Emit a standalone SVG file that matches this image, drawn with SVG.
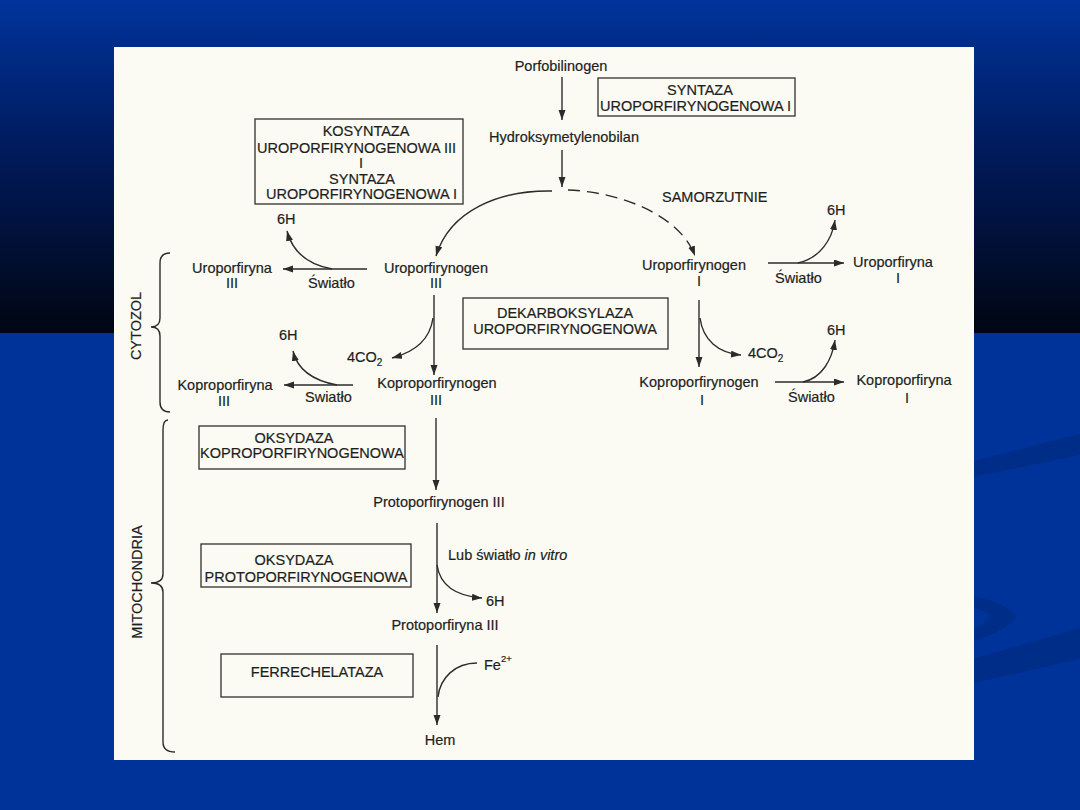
<svg xmlns="http://www.w3.org/2000/svg" width="1080" height="810" viewBox="0 0 1080 810">
<defs>
<linearGradient id="topg" x1="0" y1="0" x2="0" y2="1">
<stop offset="0" stop-color="#00349c"/>
<stop offset="0.45" stop-color="#001a5c"/>
<stop offset="1" stop-color="#000612"/>
</linearGradient>
<marker id="ah" markerUnits="userSpaceOnUse" markerWidth="11" markerHeight="8" refX="10" refY="3.5" orient="auto">
<path d="M0,0 L10,3.5 L0,7 z" fill="#2b2b2b"/>
</marker>
<style>
.t{font-family:"Liberation Sans",Arial,sans-serif;font-size:14.5px;fill:#1e1e1e;stroke:#1e1e1e;stroke-width:0.2}
.c{text-anchor:middle}
.b{fill:none;stroke:#2e2e2e;stroke-width:1.3}
.l{fill:none;stroke:#2b2b2b;stroke-width:1.4}
.a{marker-end:url(#ah)}
</style>
</defs>
<rect x="0" y="0" width="1080" height="810" fill="#00339a"/>
<rect x="0" y="0" width="1080" height="333" fill="url(#topg)"/>
<g fill="#002d88">
<path d="M900 480 L1080 434 L1080 455 L900 492 Z"/>
<path d="M900 600 Q990 585 1017 617 Q1000 640 900 660 Q985 630 990 615 Q970 600 900 605 Z"/>
<path d="M900 680 L1080 628 L1080 659 L900 700 Z"/>
</g>
<rect x="114" y="47" width="860" height="713" fill="#fbfbf3"/>

<g id="connectors">
<path class="l a" d="M562 77 L562 120"/>
<path class="l a" d="M562 150 L562 187"/>
<path class="l a" d="M552 191 C500 190 450 210 436 256"/>
<path class="l a" d="M568 190 C620 192 680 215 695 256" stroke-dasharray="12 7"/>
<path class="l a" d="M332 269 C305 264 292 250 287 231"/>
<path class="l a" d="M367 269 L283 269"/>
<path class="l a" d="M434 295 L434 375"/>
<path class="l a" d="M433 318 C430 340 415 352 392 358"/>
<path class="l a" d="M337 385 C310 380 297 368 293 351"/>
<path class="l a" d="M353 385 L284 385"/>
<path class="l a" d="M768 263 L844 263"/>
<path class="l a" d="M798 263 C820 258 832 240 835 220"/>
<path class="l a" d="M699 300 L699 367"/>
<path class="l a" d="M700 318 C703 340 718 353 741 355"/>
<path class="l a" d="M775 382 L844 382"/>
<path class="l a" d="M803 382 C822 378 832 360 835 340"/>
<path class="l a" d="M436 418 L436 490"/>
<path class="l a" d="M437 523 L437 613"/>
<path class="l a" d="M437 565 C440 585 455 596 482 598"/>
<path class="l a" d="M437 645 L437 725"/>
<path class="l" d="M477 663 C455 663 440 678 438 697"/>
<path class="l" d="M170 253 Q160 253 160 263 L160 318 Q160 327 151 327 Q160 327 160 336 L160 402 Q160 412 170 412"/>
<path class="l" d="M168 420 Q163 420 163 430 L163 574 Q163 583 151 583 Q163 583 163 592 L163 742 Q163 752 175 752"/>
</g>

<g id="n-porfobilinogen"><text class="t c" x="561" y="71">Porfobilinogen</text></g>
<g id="n-hydroksy"><text class="t c" x="564" y="142">Hydroksymetylenobilan</text></g>
<g id="n-syntaza"><rect class="b" x="598" y="78" width="197" height="38"/>
<text class="t c" x="700" y="95">SYNTAZA</text><text class="t" x="600" y="111">UROPORFIRYNOGENOWA I</text></g>
<g id="n-kosyntaza"><rect class="b" x="255" y="119" width="208" height="85"/>
<text class="t c" x="366" y="136">KOSYNTAZA</text>
<text class="t" x="257" y="153">UROPORFIRYNOGENOWA III</text>
<text class="t c" x="361" y="168">I</text>
<text class="t c" x="362" y="184">SYNTAZA</text>
<text class="t" x="266" y="199">UROPORFIRYNOGENOWA I</text></g>
<g id="n-samorzutnie"><text class="t" x="662" y="202">SAMORZUTNIE</text></g>

<g id="n-6h-1"><text class="t" x="277" y="224">6H</text></g>
<g id="n-uroporfiryna3"><text class="t c" x="232" y="273">Uroporfiryna</text><text class="t c" x="232" y="288">III</text></g>
<g id="n-swiatlo-1"><text class="t" x="308" y="288">Światło</text></g>
<g id="n-uroporfirynogen3"><text class="t c" x="436" y="273">Uroporfirynogen</text><text class="t c" x="436" y="288">III</text></g>

<g id="n-uroporfirynogen1"><text class="t c" x="694" y="270">Uroporfirynogen</text><text class="t c" x="699" y="286">I</text></g>
<g id="n-6h-2"><text class="t" x="827" y="215">6H</text></g>
<g id="n-uroporfiryna1"><text class="t c" x="893" y="267">Uroporfiryna</text><text class="t c" x="898" y="283">I</text></g>
<g id="n-swiatlo-2"><text class="t" x="775" y="283">Światło</text></g>

<g id="n-dekarboksylaza"><rect class="b" x="463" y="298" width="205" height="51"/>
<text class="t c" x="565" y="318">DEKARBOKSYLAZA</text><text class="t c" x="565" y="334">UROPORFIRYNOGENOWA</text></g>

<g id="n-4co2-1"><text class="t" x="347" y="362">4CO<tspan font-size="10" dy="4">2</tspan></text></g>
<g id="n-6h-3"><text class="t" x="279" y="340">6H</text></g>
<g id="n-koproporfiryna3"><text class="t c" x="225" y="390">Koproporfiryna</text><text class="t c" x="224" y="406">III</text></g>
<g id="n-swiatlo-3"><text class="t" x="305" y="402">Swiatło</text></g>
<g id="n-koproporfirynogen3"><text class="t c" x="437" y="388">Koproporfirynogen</text><text class="t c" x="436" y="405">III</text></g>

<g id="n-4co2-2"><text class="t" x="748" y="358">4CO<tspan font-size="10" dy="4">2</tspan></text></g>
<g id="n-6h-4"><text class="t" x="827" y="335">6H</text></g>
<g id="n-koproporfirynogen1"><text class="t c" x="699" y="387">Koproporfirynogen</text><text class="t c" x="702" y="405">I</text></g>
<g id="n-koproporfiryna1"><text class="t c" x="904" y="385">Koproporfiryna</text><text class="t c" x="907" y="403">I</text></g>
<g id="n-swiatlo-4"><text class="t" x="788" y="402">Światło</text></g>

<g id="n-cytozol"><text class="t c" transform="translate(141,326) rotate(-90)">CYTOZOL</text></g>
<g id="n-mitochondria"><text class="t c" transform="translate(142,582) rotate(-90)">MITOCHONDRIA</text></g>

<g id="n-oks-kopro"><rect class="b" x="199" y="426" width="206" height="43"/>
<text class="t c" x="294" y="443">OKSYDAZA</text><text class="t c" x="302" y="458">KOPROPORFIRYNOGENOWA</text></g>
<g id="n-protoporfirynogen"><text class="t c" x="439" y="507">Protoporfirynogen III</text></g>
<g id="n-lub"><text class="t" x="448" y="560">Lub światło <tspan font-style="italic">in vitro</tspan></text></g>
<g id="n-oks-proto"><rect class="b" x="201" y="544" width="210" height="43"/>
<text class="t c" x="294" y="565">OKSYDAZA</text><text class="t c" x="306" y="582">PROTOPORFIRYNOGENOWA</text></g>
<g id="n-6h-5"><text class="t" x="486" y="606">6H</text></g>
<g id="n-protoporfiryna"><text class="t c" x="445" y="630">Protoporfiryna III</text></g>
<g id="n-fe"><text class="t" x="484" y="670">Fe<tspan font-size="9.5" dy="-8">2+</tspan></text></g>
<g id="n-ferrechelataza"><rect class="b" x="221" y="654" width="192" height="43"/>
<text class="t c" x="317" y="677">FERRECHELATAZA</text></g>
<g id="n-hem"><text class="t c" x="440" y="745">Hem</text></g>
</svg>
